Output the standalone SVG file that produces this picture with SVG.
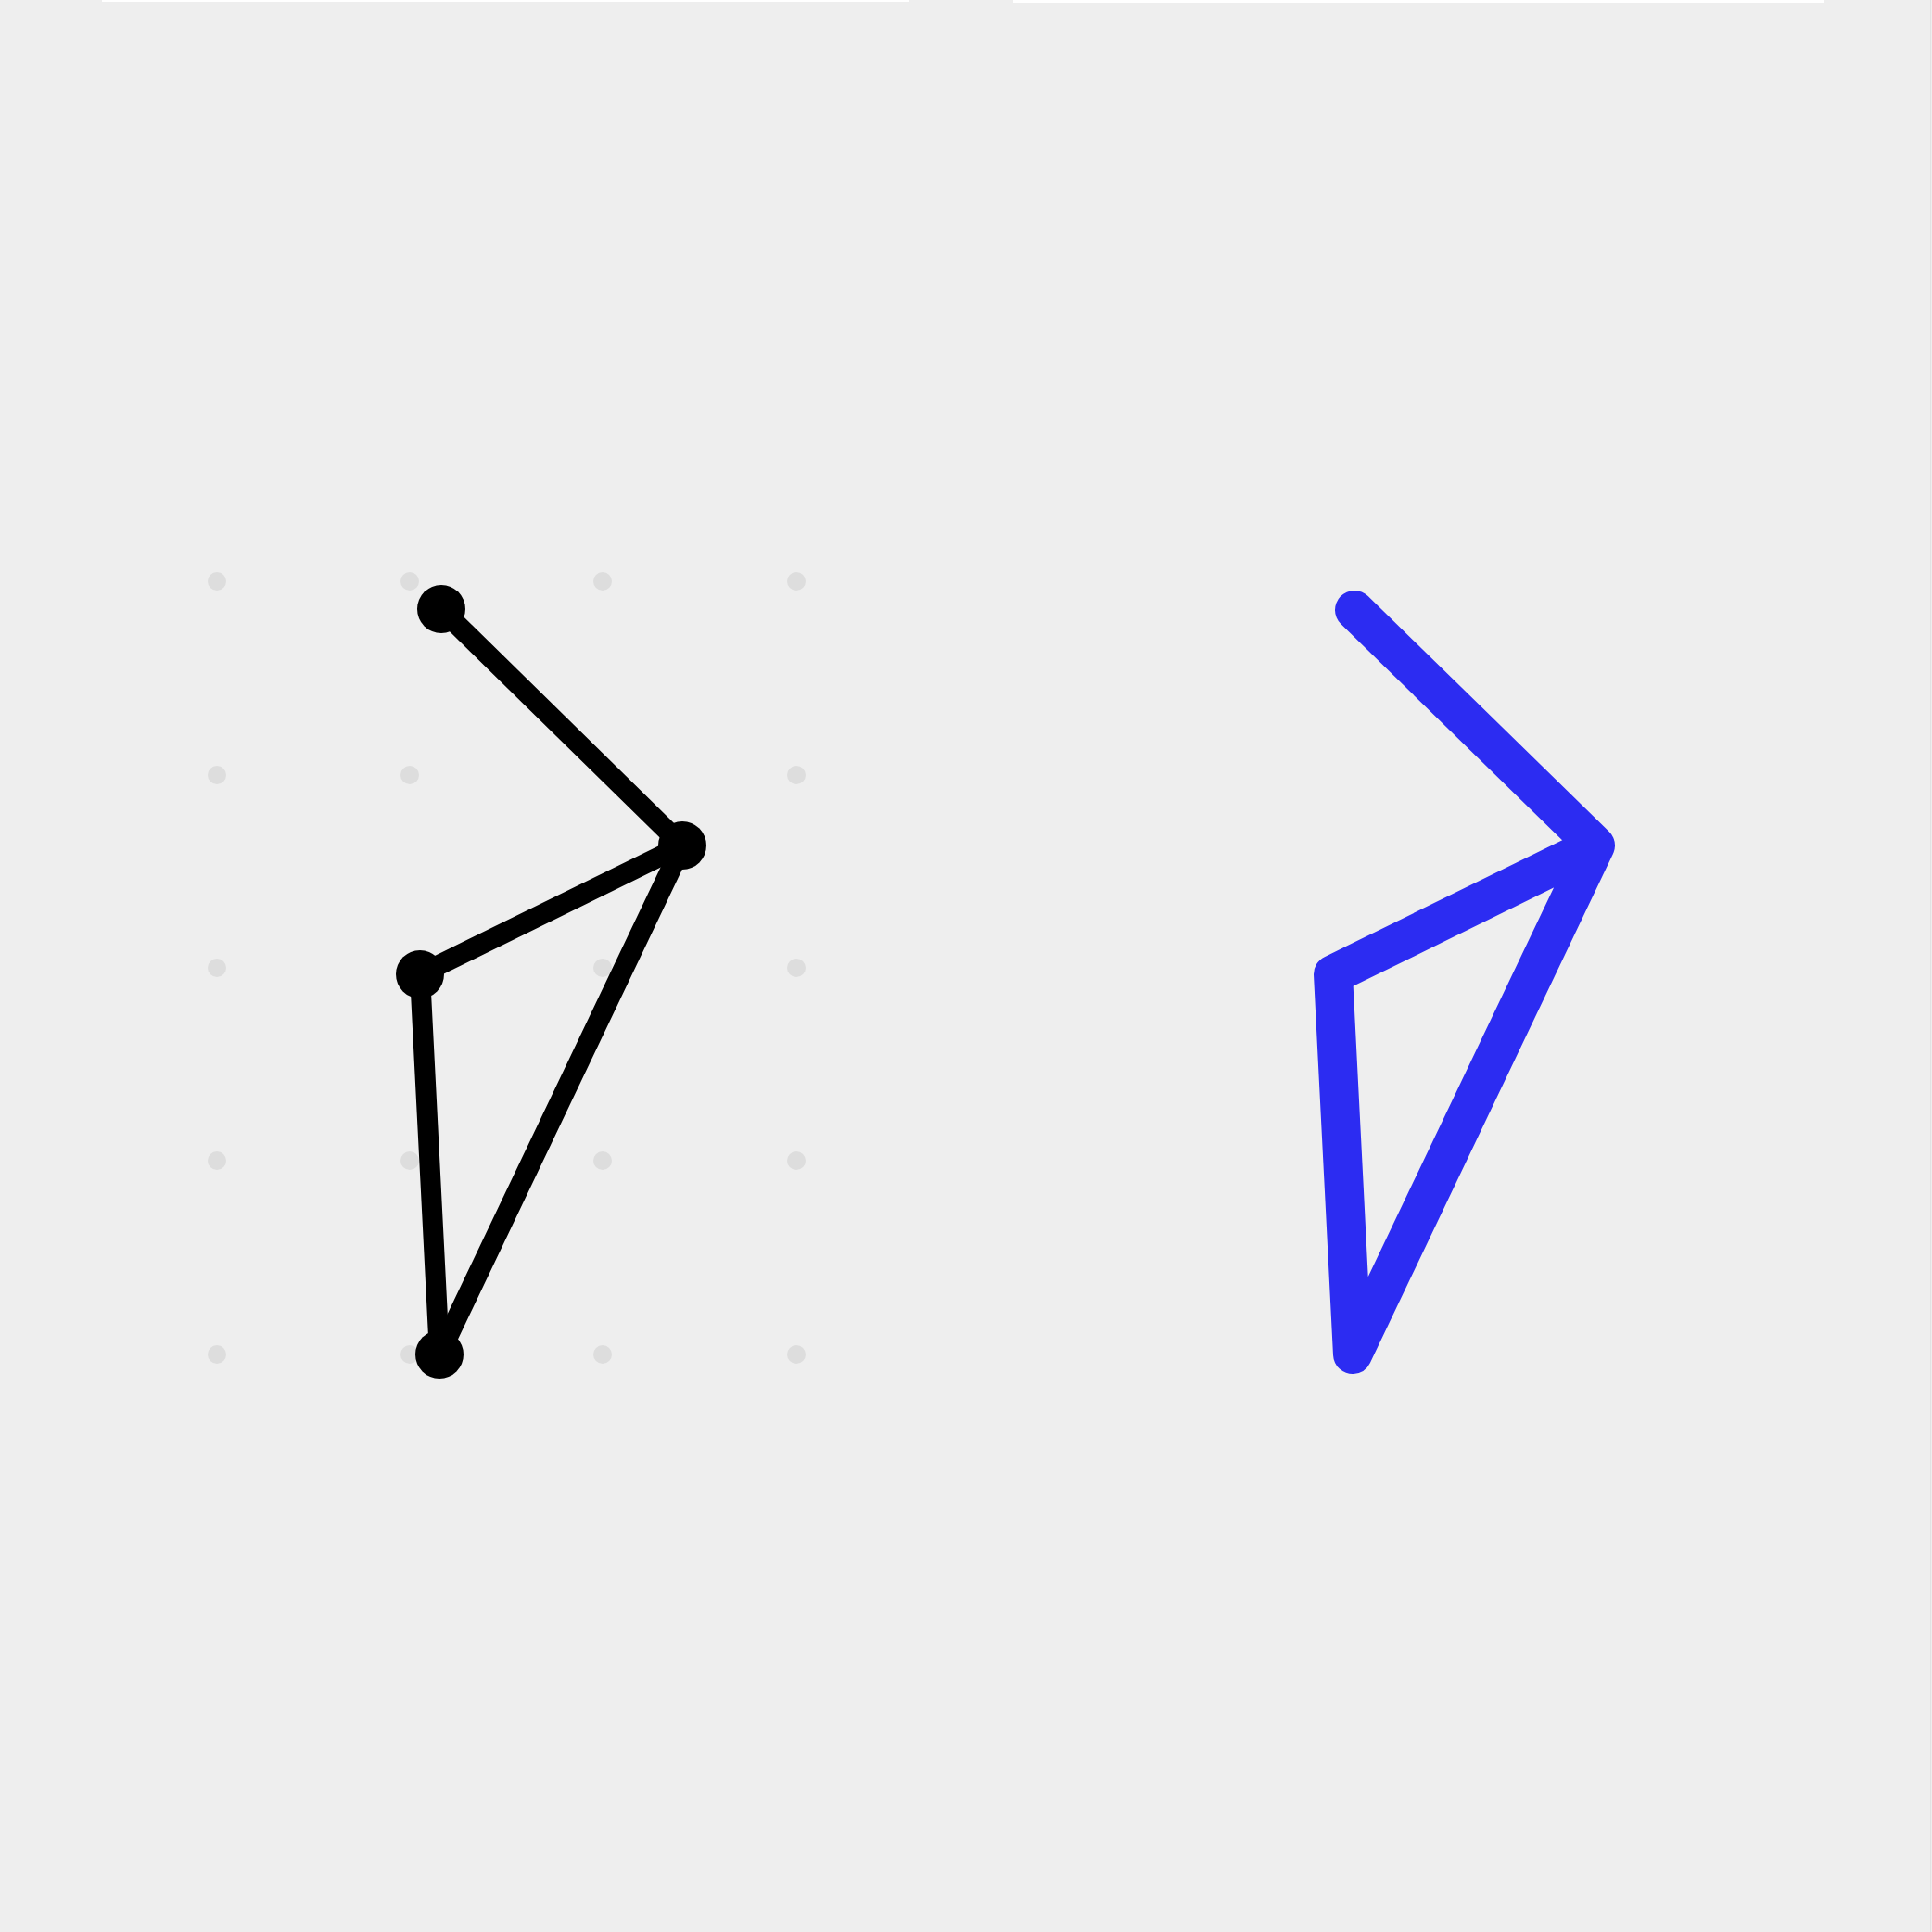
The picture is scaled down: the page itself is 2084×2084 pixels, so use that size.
<svg xmlns="http://www.w3.org/2000/svg" width="2084" height="2084" viewBox="0 0 2084 2084">
  <style>
    .dot { fill: #dddddd; }
    .edge { stroke: #000000; stroke-width: 22; stroke-linecap: round; fill: none; }
    .node { fill: #000000; }
    .blue { stroke: #2c2cf2; stroke-width: 42; stroke-linecap: round; stroke-linejoin: round; fill: none; }
  </style>
  <rect x="0" y="0" width="2084" height="2084" fill="#eeeeee"/>
  <rect x="110" y="0" width="871" height="2" fill="#ffffff"/>
  <rect x="1093" y="0" width="874" height="3" fill="#ffffff"/>
  <rect x="2082" y="0" width="1" height="2084" fill="#e2e2e2"/>
  <g id="grid">
    <circle class="dot" cx="234" cy="627" r="10"/>
    <circle class="dot" cx="442" cy="627" r="10"/>
    <circle class="dot" cx="650" cy="627" r="10"/>
    <circle class="dot" cx="859" cy="627" r="10"/>
    <circle class="dot" cx="234" cy="836" r="10"/>
    <circle class="dot" cx="442" cy="836" r="10"/>
    <circle class="dot" cx="859" cy="836" r="10"/>
    <circle class="dot" cx="234" cy="1044" r="10"/>
    <circle class="dot" cx="442" cy="1044" r="10"/>
    <circle class="dot" cx="650" cy="1044" r="10"/>
    <circle class="dot" cx="859" cy="1044" r="10"/>
    <circle class="dot" cx="234" cy="1252" r="10"/>
    <circle class="dot" cx="442" cy="1252" r="10"/>
    <circle class="dot" cx="650" cy="1252" r="10"/>
    <circle class="dot" cx="859" cy="1252" r="10"/>
    <circle class="dot" cx="234" cy="1461" r="10"/>
    <circle class="dot" cx="442" cy="1461" r="10"/>
    <circle class="dot" cx="650" cy="1461" r="10"/>
    <circle class="dot" cx="859" cy="1461" r="10"/>
  </g>
  <g id="connectors">
    <line class="edge" x1="476" y1="657" x2="736" y2="912"/>
    <line class="edge" x1="736" y1="912" x2="453" y2="1051"/>
    <line class="edge" x1="453" y1="1051" x2="474" y2="1461"/>
    <line class="edge" x1="474" y1="1461" x2="736" y2="912"/>
  </g>
  <g id="node-1"><circle class="node" cx="476" cy="657" r="26"/></g>
  <g id="node-2"><circle class="node" cx="736" cy="912" r="26"/></g>
  <g id="node-3"><circle class="node" cx="453" cy="1051" r="26"/></g>
  <g id="node-4"><circle class="node" cx="474" cy="1461" r="26"/></g>
  <g id="blue-shape">
    <polyline class="blue" points="1461,658 1721,912 1438,1051 1459,1461 1721,912"/>
  </g>
</svg>
